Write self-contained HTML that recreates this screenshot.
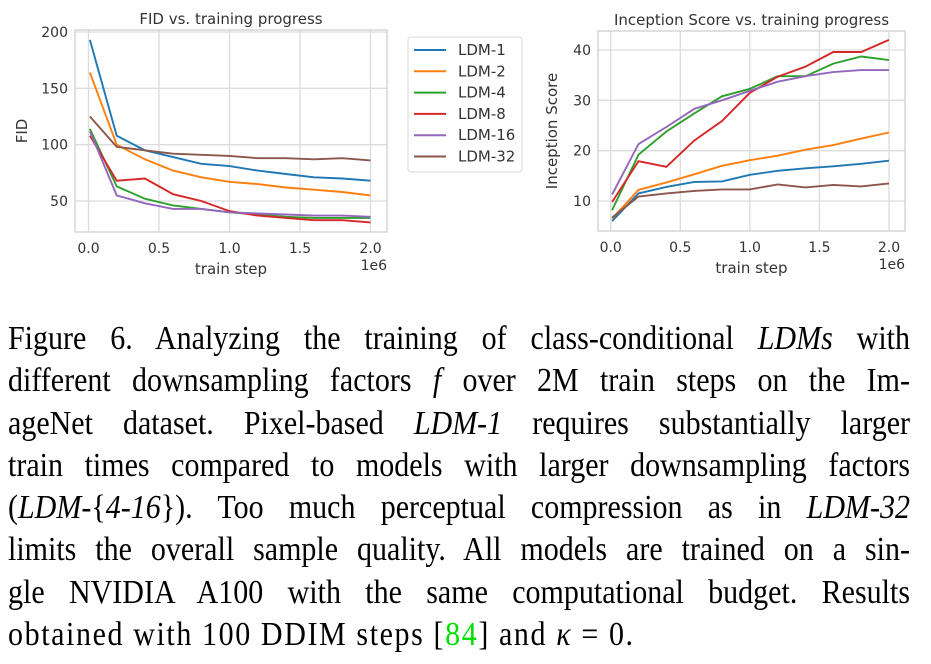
<!DOCTYPE html>
<html><head><meta charset="utf-8">
<style>
body{margin:0;background:#fff;width:931px;height:664px;overflow:hidden;}
svg text{font-family:"DejaVu Sans","Liberation Sans",sans-serif;fill:#333;}
#cap{position:absolute;left:8px;top:318px;width:902px;font-family:"Liberation Serif",serif;font-size:30px;color:#000;}
#cap div{height:42.3px;line-height:42px;white-space:nowrap;text-align:justify;text-align-last:justify;transform:scaleY(1.12);}
#cap div.last{text-align-last:left;letter-spacing:1.6px;}
</style></head><body>
<svg id="chart" width="931" height="300" style="position:absolute;left:0;top:0"></svg>
<div id="cap">
<div>Figure 6. Analyzing the training of class-conditional <i>LDMs</i> with</div>
<div>different downsampling factors <i>f</i> over 2M train steps on the Im-</div>
<div>ageNet dataset. Pixel-based <i>LDM-1</i> requires substantially larger</div>
<div>train times compared to models with larger downsampling factors</div>
<div>(<i>LDM</i>-{<i>4-16</i>}). Too much perceptual compression as in <i>LDM-32</i></div>
<div>limits the overall sample quality. All models are trained on a sin-</div>
<div>gle NVIDIA A100 with the same computational budget. Results</div>
<div class="last">obtained with 100 DDIM steps [<span style="color:#00e000">84</span>] and <i>κ</i> = 0.</div>
</div>
<script>
const steps=[0.01,0.2,0.4,0.6,0.8,1.0,1.2,1.4,1.6,1.8,2.0];
const names=['LDM-1','LDM-2','LDM-4','LDM-8','LDM-16','LDM-32'];
const colors=['#1f77b4','#ff7f0e','#2ca02c','#d62728','#9467bd','#8c564b'];
const fid1=[193,108,95,89,83,81,77,74,71,70,68];
const fid2=[164,100,87,77,71,67,65,62,60,58,55];
const fid4=[114,63,52,46,43,40,38,36,35,35,35];
const fid8=[108,68,70,56,50,41,37,35,33,33,31];
const fid16=[112,55,48,43,43,40,39,38,37,37,36];
const fid32=[125,98,95,92,91,90,88,88,87,88,86];
const is1=[6,11.5,12.8,13.8,13.9,15.2,16,16.5,16.9,17.4,18];
const is2=[6.5,12.2,13.7,15.3,17,18.1,19,20.2,21.1,22.4,23.6];
const is4=[8.2,19.2,23.8,27.4,30.8,32.3,34.8,34.8,37.3,38.7,38];
const is8=[9.8,17.9,16.8,22,25.9,31.5,34.7,36.7,39.6,39.6,42];
const is16=[11.3,21.3,24.7,28.3,30,31.9,33.7,34.8,35.6,36,36];
const is32=[6.7,10.9,11.5,12,12.3,12.3,13.3,12.7,13.2,12.9,13.5];
const xTicks=[0,0.5,1.0,1.5,2.0];
const fidTicks=[50,100,150,200];
const isTicks=[10,20,30,40];

const svg=document.getElementById('chart');
const NS='http://www.w3.org/2000/svg';
function mk(t,a,txt){const e=document.createElementNS(NS,t);for(const k in a)e.setAttribute(k,a[k]);if(txt!==undefined)e.textContent=txt;svg.appendChild(e);return e;}

function panel(p){
  const sx=v=>p.x0+(v-0)*(p.x2-p.x0)/2;
  const sy=v=>p.ya+(v-p.va)*(p.yb-p.ya)/(p.vb-p.va);
  xTicks.forEach(t=>{
    const g=mk('line',{x1:sx(t),x2:sx(t),y1:p.top,y2:p.bot,stroke:'#dcdcdc','stroke-width':1.3});
    
    const l=mk('text',{x:sx(t),y:p.bot+21,'font-size':14,'text-anchor':'middle'},t.toFixed(1));
    
  });
  p.ticks.forEach(t=>{
    const g=mk('line',{x1:p.left,x2:p.right,y1:sy(t),y2:sy(t),stroke:'#dcdcdc','stroke-width':1.3});
    
    const l=mk('text',{x:p.left-7,y:sy(t)+5,'font-size':14,'text-anchor':'end'},String(t));
    
  });
  const fr=mk('rect',{x:p.left,y:p.top,width:p.right-p.left,height:p.bot-p.top,fill:'none',stroke:'#cfcfcf','stroke-width':1.3});
  
  p.series.forEach((s,i)=>{
    const d=s.map((v,j)=>(j?'L':'M')+sx(steps[j]).toFixed(1)+','+sy(v).toFixed(1)).join('');
    const e=mk('path',{d:d,fill:'none',stroke:colors[i],'stroke-width':1.9});
    
    
  });
  const t=mk('text',{x:(p.left+p.right)/2,y:p.top-6,'font-size':15,'text-anchor':'middle'},p.title);
  
  const xl=mk('text',{x:(p.left+p.right)/2,y:p.bot+42,'font-size':15,'text-anchor':'middle'},'train step');
  
  const ex=mk('text',{x:p.right,y:p.bot+38,'font-size':14,'text-anchor':'end'},'1e6');
  
  const yl=mk('text',{x:0,y:0,'font-size':15,'text-anchor':'middle',transform:'translate('+p.ylx+','+((p.top+p.bot)/2)+') rotate(-90)'},p.ylabel);
  
}
panel({id:'fid',left:75,right:387,top:30,bot:232,x0:88.5,x2:370.5,ya:32,va:200,yb:201,vb:50,ticks:fidTicks,
  series:[fid1,fid2,fid4,fid8,fid16,fid32],title:'FID vs. training progress',ylabel:'FID',ylx:27});
panel({id:'is',left:598,right:905,top:31,bot:231,x0:610.7,x2:889,ya:50,va:40,yb:201,vb:10,ticks:isTicks,
  series:[is1,is2,is4,is8,is16,is32],title:'Inception Score vs. training progress',ylabel:'Inception Score',ylx:557});

const lb=mk('rect',{x:408,y:37,width:114,height:135,rx:3,fill:'#fff',stroke:'#d8d8d8','stroke-width':1});

names.forEach((n,i)=>{
  const y=50+i*21.3;
  const l=mk('line',{x1:414,x2:446,y1:y,y2:y,stroke:colors[i],'stroke-width':2});
  
  const t=mk('text',{x:458,y:y+5,'font-size':15},n);
  
});
</script>
</body></html>
